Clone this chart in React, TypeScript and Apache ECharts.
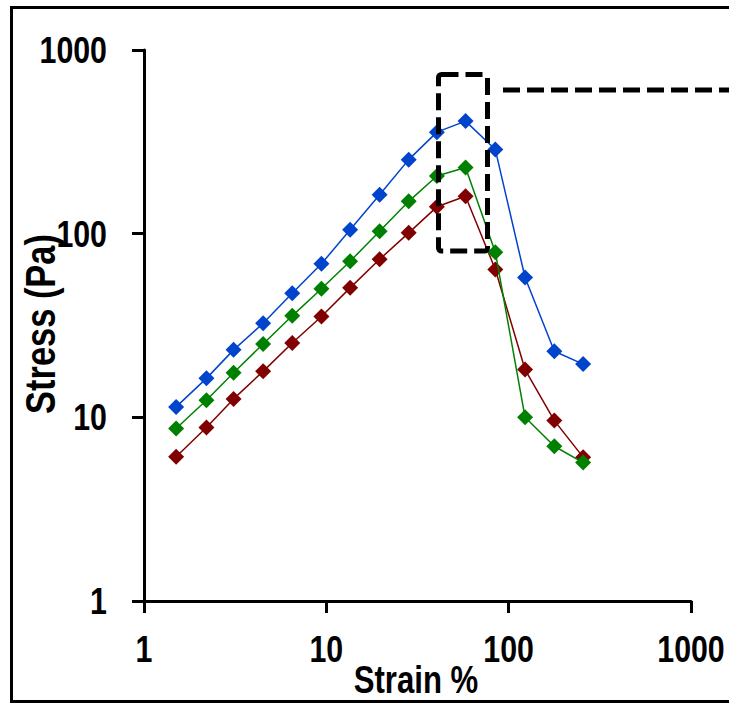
import React, { useEffect, useRef } from "react";
import * as echarts from "echarts";

// Data
const strain = [1.5, 2.2, 3.1, 4.5, 6.5, 9.4, 13.5, 19.6, 28.3, 40.4, 58, 84.5, 123, 178, 256];
const stressBlue = [11.4, 16.3, 23.3, 32.5, 47.4, 68.5, 105, 163, 253, 357, 410, 287, 57.7, 22.9, 19.5];
const stressGreen = [8.7, 12.4, 17.5, 25.1, 35.7, 50.1, 70.7, 103, 150, 206, 229, 79.2, 10.0, 6.96, 5.67];
const stressRed = [6.1, 8.8, 12.6, 17.8, 25.4, 35.4, 50.7, 72.5, 101, 140, 160, 63.8, 18.2, 9.6, 6.07];
const seriesNames = ["Series 1", "Series 2", "Series 3"];
const seriesColors = ["#0044CC", "#008000", "#800000"];
const tickValues = [1, 10, 100, 1000];
const tickLabels = ["1", "10", "100", "1000"];
const xTitle = "Strain %";
const yTitle = "Stress (Pa)";

const FONT = "'Liberation Sans', Arial, sans-serif";
const NARROW = 0.82;

export default function App() {
  const ref = useRef<HTMLDivElement>(null);
  useEffect(() => {
    if (!ref.current) return;
    const chart = echarts.init(ref.current, null, { renderer: "svg" });
    const all = [stressBlue, stressGreen, stressRed];
    const axisCommon = {
      type: "log" as const,
      logBase: 10,
      min: 1,
      max: 1000,
      splitLine: { show: false },
      minorTick: { show: false },
      axisLine: { show: true, lineStyle: { color: "#000", width: 3 } },
      axisTick: { show: true, inside: false, length: 12, lineStyle: { color: "#000", width: 3 } },
      axisLabel: { show: false },
    };
    chart.setOption({
      animation: false,
      backgroundColor: "#fff",
      grid: { left: 144, top: 50, width: 547, height: 551, containLabel: false, outerBoundsMode: "none" },
      xAxis: { ...axisCommon },
      yAxis: { ...axisCommon },
      series: all.map((vals, i) => ({
        name: seriesNames[i],
        type: "line",
        data: strain.map((x, j) => [x, vals[j]]),
        symbol: "diamond",
        symbolSize: 16,
        showSymbol: true,
        color: seriesColors[i],
        lineStyle: { color: seriesColors[i], width: 1.5 },
        itemStyle: { color: seriesColors[i] },
        z: 3 - i,
      })),
    });

    const textEl = (
      text: string,
      x: number,
      y: number,
      size: number,
      align: string,
      rotation = 0
    ) => ({
      type: "text",
      x,
      y,
      rotation,
      scaleX: NARROW,
      silent: true,
      z: 20,
      style: {
        text,
        font: `bold ${size}px ${FONT}`,
        fill: "#000",
        align,
        verticalAlign: "middle",
        textAlign: align,
        textVerticalAlign: "middle",
      },
    });

    const graphics: any[] = [];
    tickValues.forEach((v, i) => {
      const py = chart.convertToPixel({ yAxisIndex: 0 }, v) as number;
      graphics.push(textEl(tickLabels[i], 107, py, 37, "right"));
      const px = chart.convertToPixel({ xAxisIndex: 0 }, v) as number;
      graphics.push(textEl(tickLabels[i], px, 648.5, 37, "center"));
    });
    graphics.push(textEl(xTitle, 416, 680, 38, "center"));
    graphics.push(textEl(yTitle, 40, 324, 42, "center", Math.PI / 2));
    graphics.push(
      {
        type: "rect",
        shape: { x: 11.5, y: 7.5, width: 740, height: 694 },
        style: { fill: "none", stroke: "#000", lineWidth: 3 },
        silent: true,
        z: 10,
      },
      {
        type: "rect",
        shape: { x: 438.5, y: 74.5, width: 49, height: 176.5, r: 3 },
        style: { fill: "none", stroke: "#000", lineWidth: 5, lineDash: [17, 7], lineJoin: "round" },
        silent: true,
        z: 10,
      },
      {
        type: "line",
        shape: { x1: 503, y1: 90, x2: 735, y2: 90 },
        style: { stroke: "#000", lineWidth: 5, lineDash: [17, 7] },
        silent: true,
        z: 10,
      }
    );
    chart.setOption({ graphic: graphics });
    return () => chart.dispose();
  }, []);
  return (
    <div
      ref={ref}
      style={{ position: "fixed", left: 0, top: 0, width: 729, height: 704, background: "#fff" }}
    />
  );
}
